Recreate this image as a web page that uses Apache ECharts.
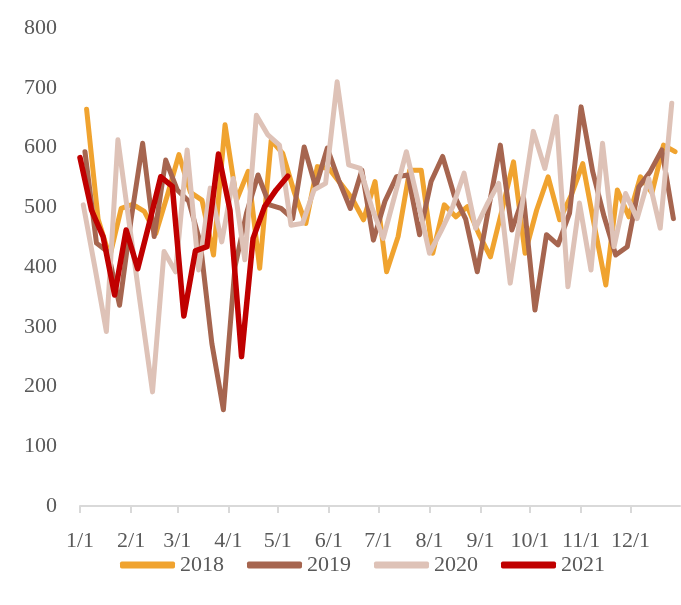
<!DOCTYPE html>
<html>
<head>
<meta charset="utf-8">
<script src="https://cdn.jsdelivr.net/npm/echarts@6/dist/echarts.min.js"></script>
<style>
    html, body {margin: 0; padding: 0; background: #fff;}
    #chart1 {width: 681px; height: 605px;}
</style>
</head>
<body>
<div id="chart1"></div>
<script>
// weekly values
var legendData = ['2018', '2019', '2020', '2021'];
var data2018 = [664,480,417,498,505,493,456,520,588,525,512,420,638,512,560,398,612,590,525,473,568,565,540,515,479,543,392,451,562,562,423,504,484,501,455,417,495,576,423,495,551,479,520,573,470,370,529,484,551,524,604,593];
var data2019 = [593,440,425,336,480,607,451,579,529,510,440,272,161,400,490,554,504,498,481,601,534,599,545,498,562,445,510,551,554,454,543,585,520,480,392,500,604,462,518,328,454,437,490,668,560,484,420,434,534,560,596,481];
var data2020 = [504,400,292,613,470,330,191,426,392,596,395,532,442,548,412,654,621,604,470,473,529,540,710,571,565,500,448,520,593,510,423,460,500,557,465,505,540,373,500,627,565,652,367,507,395,607,434,523,481,548,465,674];
var data2021 = [583,495,451,353,462,397,473,551,535,318,427,434,589,495,250,448,501,529,552];
// day of year of the first weekly point
var startDay = [4, 3, 2, 0];
var colors = ['#F0A32F', '#A6654F', '#DEC2B7', '#C00000'];
var yTicks = [0, 800, 100];

// one category per day, 1/1 .. 12/31
var monthDays = [31,28,31,30,31,30,31,31,30,31,30,31];
var dayLabels = [];
for (var m = 0; m < 12; m++) {
    for (var d = 1; d <= monthDays[m]; d++) {
        dayLabels.push((m + 1) + '/' + d);
    }
}

function toDaily(weekly, start) {
    var arr = [];
    for (var i = 0; i < dayLabels.length; i++) arr.push(null);
    for (var j = 0; j < weekly.length; j++) {
        arr[start + j * 7] = weekly[j];
    }
    return arr;
}

function setchart(chartName) {
    var myChart = echarts.init(document.getElementById(chartName));
    var all = [data2018, data2019, data2020, data2021];
    var series = [];
    for (var k = 0; k < all.length; k++) {
        series.push({
            name: legendData[k],
            type: 'line',
            data: toDaily(all[k], startDay[k]),
            connectNulls: true,
            symbol: 'none',
            lineStyle: {width: k == 3 ? 5.5 : 5, color: colors[k], cap: 'round', join: 'round'},
            itemStyle: {color: colors[k]}
        });
    }
    var isMonthStart = function (index, value) {
        return dayLabels[index].split('/')[1] === '1';
    };
    var option = {
        animation: false,
        textStyle: {fontFamily: 'Liberation Serif'},
        legend: {
            data: legendData,
            left: 115,
            top: 549,
            icon: 'roundRect',
            itemWidth: 55,
            itemHeight: 7,
            itemGap: 23,
            textStyle: {fontSize: 22, color: '#595959', fontFamily: 'Liberation Serif'}
        },
        grid: {left: 80, right: 1, top: 28, bottom: 99, containLabel: false},
        xAxis: {
            type: 'category',
            boundaryGap: false,
            data: dayLabels,
            axisLine: {lineStyle: {color: '#D9D9D9', width: 2}},
            axisTick: {interval: isMonthStart, length: 7, lineStyle: {color: '#D9D9D9', width: 2}},
            axisLabel: {interval: isMonthStart, margin: 24, fontSize: 22, color: '#595959', fontFamily: 'Liberation Serif'},
            splitLine: {show: false}
        },
        yAxis: {
            type: 'value',
            min: yTicks[0],
            max: yTicks[1],
            interval: yTicks[2],
            axisLine: {show: false},
            axisTick: {show: false},
            splitLine: {show: false},
            axisLabel: {margin: 23, fontSize: 22, color: '#595959', fontFamily: 'Liberation Serif'}
        },
        series: series
    };
    myChart.setOption(option);
}

setchart('chart1');
</script>
</body>
</html>
